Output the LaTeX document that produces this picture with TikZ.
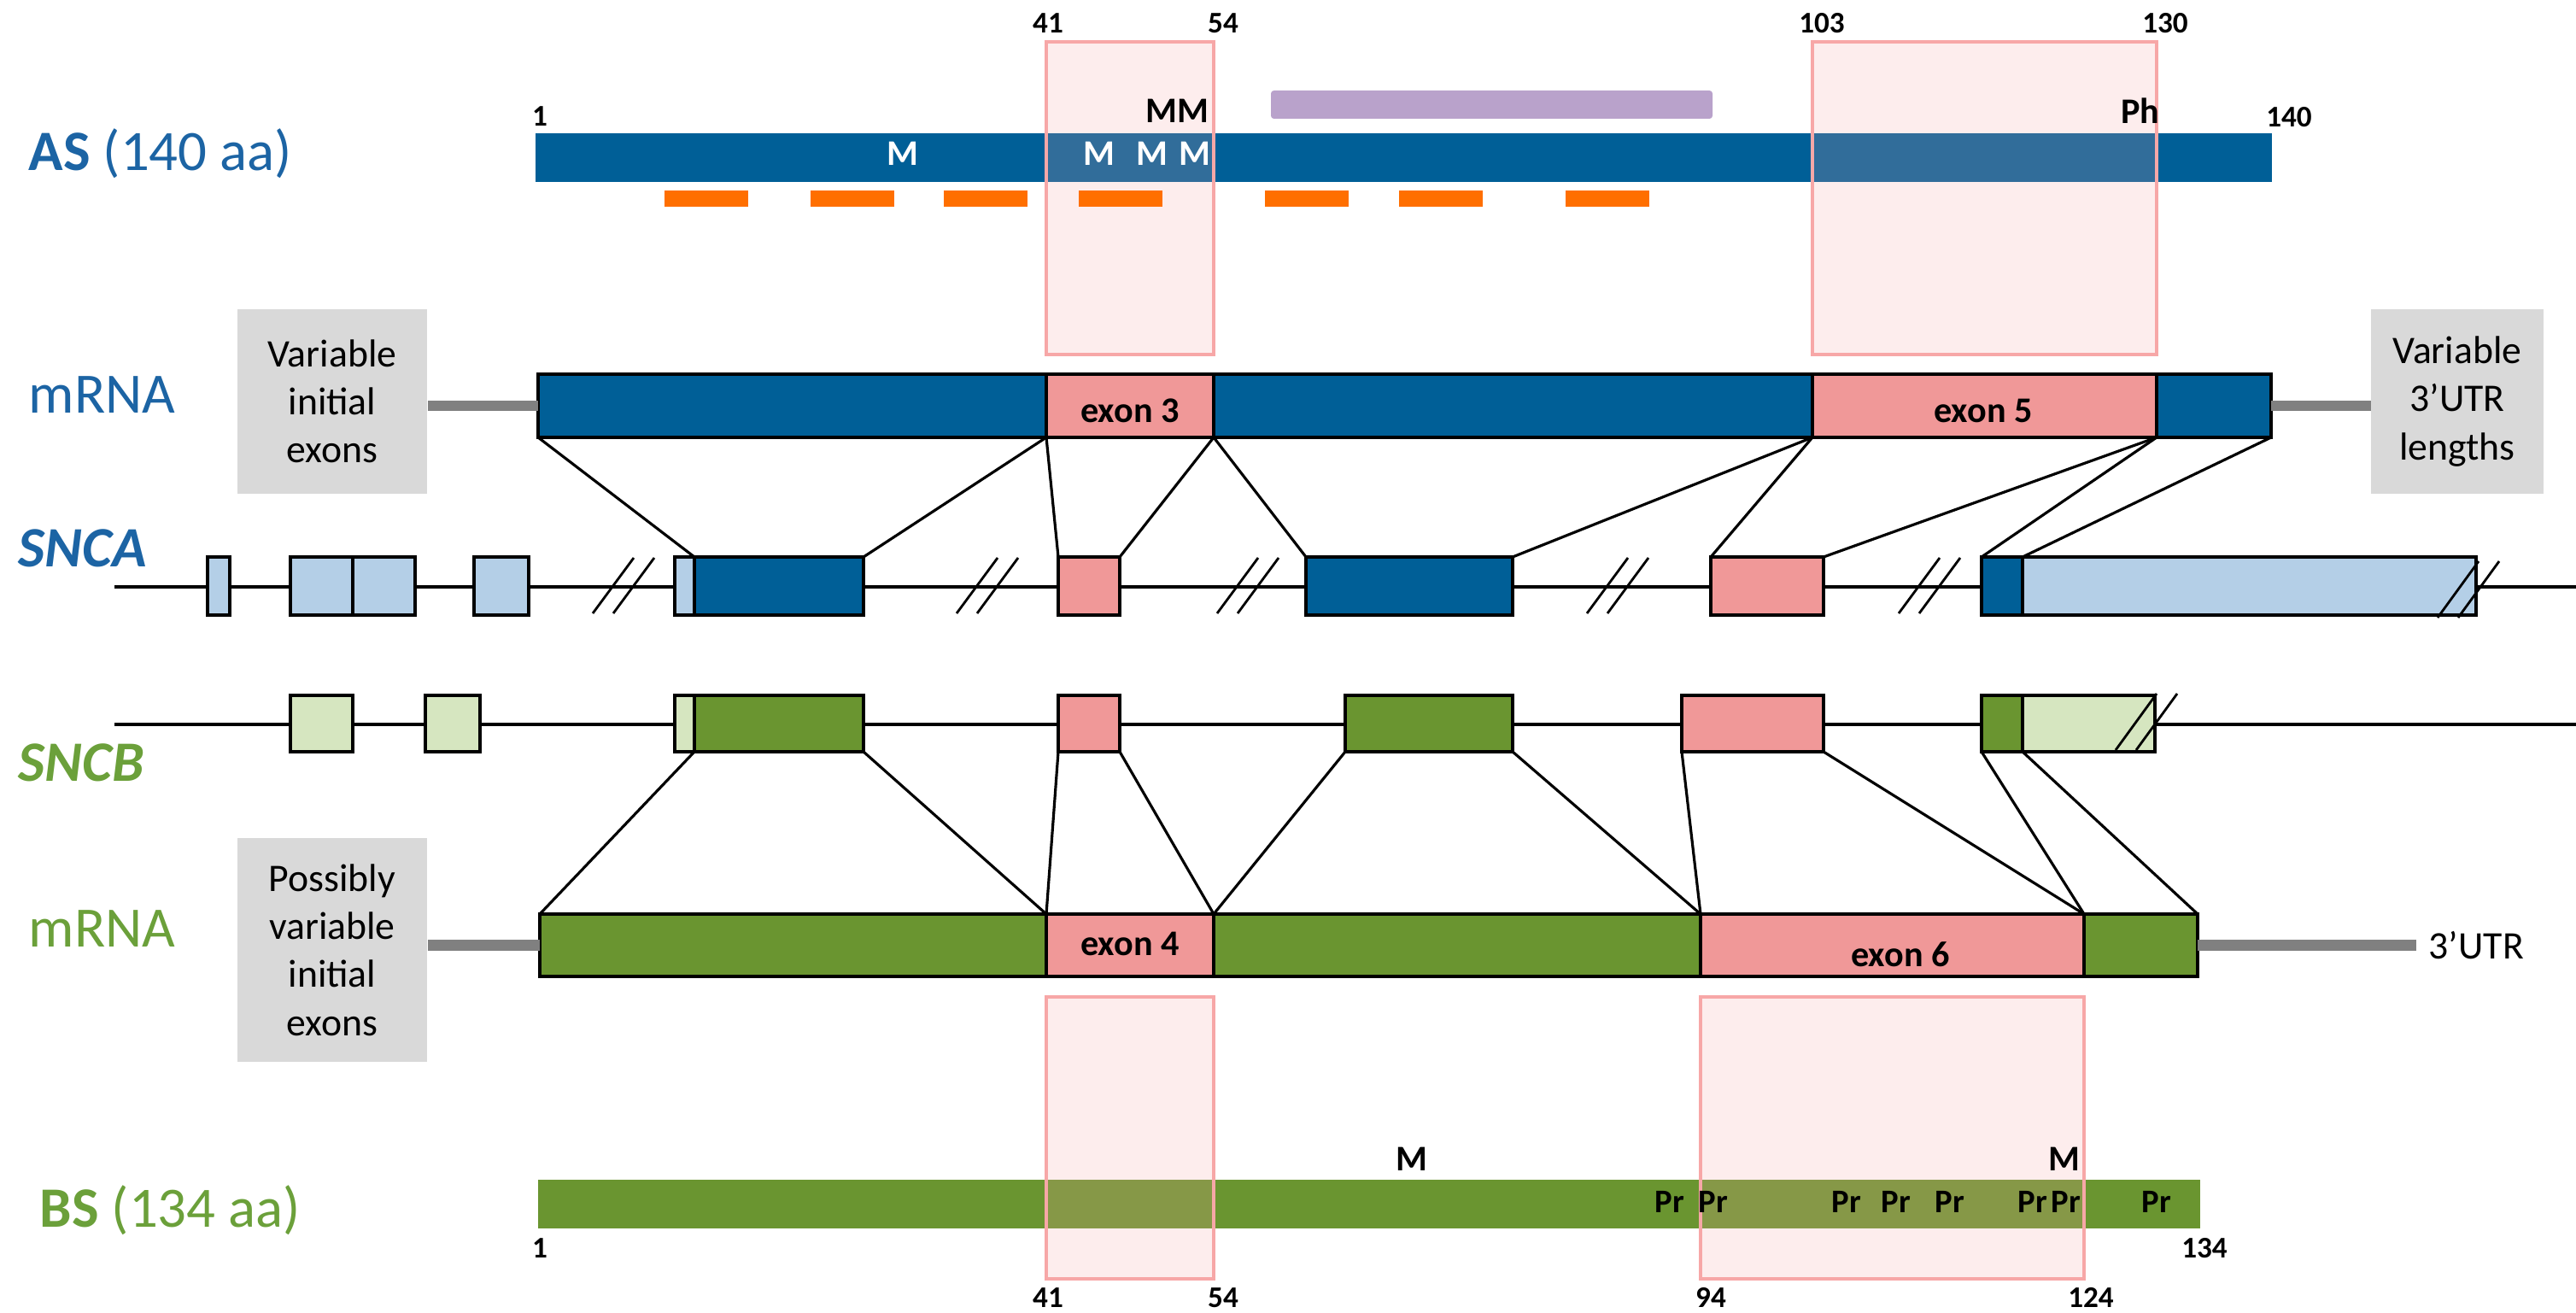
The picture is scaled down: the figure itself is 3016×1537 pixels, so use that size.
\documentclass[tikz,border=0pt]{standalone}
\usepackage{fontspec}
\setmainfont{Carlito}
\usetikzlibrary{fit,positioning}

\definecolor{asblue}{HTML}{005F97}
\definecolor{astext}{HTML}{1C64A4}
\definecolor{asltblue}{HTML}{B4CFE7}
\definecolor{bsgreen}{HTML}{6A9530}
\definecolor{bstext}{HTML}{6BA03A}
\definecolor{bsltgreen}{HTML}{D6E6C0}
\definecolor{exonpink}{HTML}{F09898}
\definecolor{hlpink}{HTML}{F7A7A7}
\definecolor{boxgray}{HTML}{D9D9D9}
\definecolor{utrgray}{HTML}{808080}
\definecolor{dashorange}{HTML}{FF6F00}
\definecolor{nacpurple}{HTML}{B9A2CB}

\begin{document}
\begin{tikzpicture}[x=0.01cm, y=-0.01cm,
  seg/.style={draw=black, line width=1pt, inner sep=0pt, outer sep=0pt},
  dkb/.style={seg, fill=asblue},
  ltb/.style={seg, fill=asltblue},
  dkg/.style={seg, fill=bsgreen},
  ltg/.style={seg, fill=bsltgreen},
  pex/.style={seg, fill=exonpink},
  link/.style={line width=0.9pt},
  backbone/.style={line width=1.3pt},
  brk/.style={line width=0.8pt},
  utrline/.style={draw=utrgray, line width=3.6pt},
  hilite/.style={draw=hlpink, line width=1pt, fill=hlpink, fill opacity=0.2},
  graybox/.style={fill=boxgray, align=center, inner sep=0pt, minimum width=2.22cm, minimum height=2.15cm, font=\fontsize{13}{16}\selectfont},
  rowlab/.style={anchor=west, inner sep=0pt, font=\fontsize{19}{23}\selectfont},
  aapos/.style={inner sep=0pt, font=\fontsize{10}{12}\selectfont\bfseries},
  modlab/.style={inner sep=0pt, font=\fontsize{12}{14}\selectfont\bfseries},
  exlab/.style={inner sep=0pt, font=\fontsize{12}{14}\selectfont\bfseries}]

\useasboundingbox (0,0) rectangle (3016,1537);

% row labels
\node[rowlab, text=astext] (asname) at (33,180) {\textbf{AS} (140 aa)};
\node[rowlab, text=astext] (mrnaA) at (33,462) {mRNA};
\node[rowlab, text=astext] (sncaname) at (21,642) {\textbf{\textit{SNCA}}};
\node[rowlab, text=bstext] (sncbname) at (21,893) {\textbf{\textit{SNCB}}};
\node[rowlab, text=bstext] (mrnaB) at (33,1087) {mRNA};
\node[rowlab, text=bstext] (bsname) at (46,1417) {\textbf{BS} (134 aa)};

% AS protein
\node[fill=asblue, inner sep=0pt, fit={(627,156) (2660,213)}] (asbar) {};
\fill[nacpurple, rounded corners=1pt] (1488,106) rectangle (2005,139);

% BS protein
\node[fill=bsgreen, inner sep=0pt, fit={(630,1381) (2576,1438)}] (bsbar) {};

% exon highlights
\draw[hilite] (1225,49) rectangle (1421,415);
\draw[hilite] (2122,49) rectangle (2525,415);
\draw[hilite] (1225,1167) rectangle (1421,1497);
\draw[hilite] (1991,1167) rectangle (2440,1497);

\foreach \x in {778,949,1105,1263,1481,1638,1833}
  \fill[dashorange] (\x,223) rectangle +(98,19);

% residue numbers
\node[aapos] (asn1) at (632,136) {1};
\node[aapos] (asn140) at (2680,137) {140};
\foreach \x/\t in {1227/41,1432/54,2133/103,2535/130}
  \node[aapos] (ast\t) at (\x,27) {\t};
\node[aapos] (bsn1) at (632,1461) {1};
\node[aapos] (bsn134) at (2581,1461) {134};
\foreach \x/\t in {1227/41,1432/54,2003/94,2448/124}
  \node[aapos] (bsb\t) at (\x,1519) {\t};

% modifications
\foreach \x [count=\i] in {1057,1287,1349,1399}
  \node[modlab, text=white] (asm\i) at (\x,180) {M};
\node[modlab] (asmm) at (1378,130) {MM};
\node[modlab] (asph) at (2506,130) {Ph};
\node[modlab] (bsm1) at (1653,1357) {M};
\node[modlab] (bsm2) at (2417,1357) {M};
\foreach \x [count=\i] in {1955,2006,2162,2220,2283,2380,2419,2525}
  \node[modlab, font=\fontsize{11}{13}\selectfont\bfseries] (pr\i) at (\x,1407) {Pr};

% SNCA mRNA
\foreach \n/\a/\b/\s in {am1/630/1225/dkb, am2/1225/1421/pex, am3/1421/2122/dkb, am4/2122/2525/pex, am5/2525/2659/dkb}
  \node[\s, fit={(\a,438) (\b,512)}] (\n) {};
\node[exlab] (ex3) at (1323,481) {exon 3};
\node[exlab] (ex5) at (2322,481) {exon 5};
\node[graybox] (varL) at (389,470) {Variable\\initial\\exons};
\node[graybox, minimum width=2.01cm] (varR) at (2877,470) {Variable\\3’UTR\\lengths};
\draw[utrline] (varL.east |- am1.west) -- (am1.west);
\draw[utrline] (am5.east) -- (am5.east -| varR.west);

% SNCA gene
\coordinate (snaL) at (134,687);
\coordinate (snaR) at (3016,687);
\draw[backbone] (snaL) -- (snaR);
\foreach \n/\a/\b/\s in {ag1/243/269/ltb, ag2a/340/413/ltb, ag2b/413/486/ltb, ag3/555/619/ltb,
    ag4a/790/813/ltb, ag4/813/1011/dkb, ag5/1239/1311/pex, ag6/1529/1771/dkb,
    ag7/2003/2135/pex, ag8/2320/2368/dkb, ag8b/2368/2899/ltb}
  \node[\s, fit={(\a,652) (\b,720)}] (\n) {};
\foreach \bx in {694,1120,1425,1858,2223}
  \draw[brk] (\bx,718) -- ++(48,-65) (\bx+24,718) -- ++(48,-65);
\draw[brk] (2854,723) -- ++(48,-66) (2878,723) -- ++(48,-66);

\foreach \m/\g in {am1/ag4, am2/ag5, am3/ag6, am4/ag7, am5/ag8}
  \draw[link] (\m.south west) -- (\g.north west) (\m.south east) -- (\g.north east);

% SNCB gene
\coordinate (snbL) at (134,848);
\coordinate (snbR) at (3016,848);
\draw[backbone] (snbL) -- (snbR);
\foreach \n/\a/\b/\s in {bg1/340/413/ltg, bg2/498/562/ltg, bg3a/790/813/ltg, bg3/813/1011/dkg,
    bg4/1239/1311/pex, bg5/1575/1771/dkg, bg6/1969/2135/pex, bg7/2320/2368/dkg, bg7b/2368/2523/ltg}
  \node[\s, fit={(\a,814) (\b,880)}] (\n) {};
\draw[brk] (2477,878) -- ++(48,-66) (2501,878) -- ++(48,-66);

% SNCB mRNA
\foreach \n/\a/\b/\s in {bm1/632/1225/dkg, bm2/1225/1421/pex, bm3/1421/1991/dkg, bm4/1991/2440/pex, bm5/2440/2573/dkg}
  \node[\s, fit={(\a,1070) (\b,1143)}] (\n) {};
\node[exlab] (ex4) at (1323,1105) {exon 4};
\node[exlab] (ex6) at (2225,1117) {exon 6};
\node[graybox, minimum height=2.61cm] (varB) at (389,1112) {Possibly\\variable\\initial\\exons};
\node[anchor=west, inner sep=4pt, font=\fontsize{13}{16}\selectfont] (utrlab) at (2829,1107) {3’UTR};
\draw[utrline] (varB.east |- bm1.west) -- (bm1.west);
\draw[utrline] (bm5.east) -- (bm5.east -| utrlab.west);

\foreach \g/\m in {bg3/bm1, bg4/bm2, bg5/bm3, bg6/bm4, bg7/bm5}
  \draw[link] (\g.south west) -- (\m.north west) (\g.south east) -- (\m.north east);
\end{tikzpicture}
\end{document}
